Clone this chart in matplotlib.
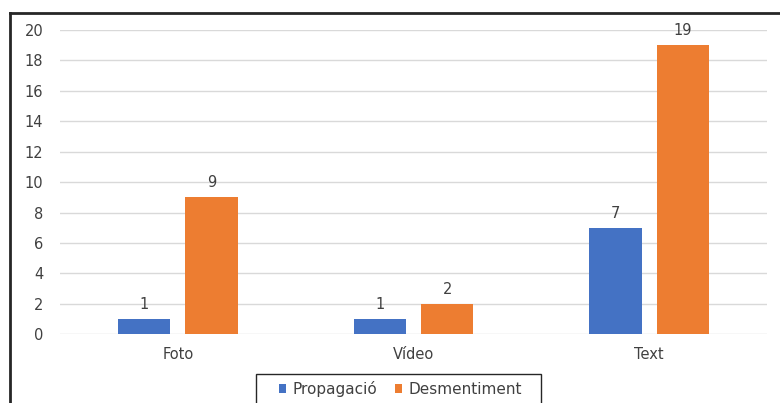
import numpy as np
import matplotlib
matplotlib.use("Agg")
import matplotlib.pyplot as plt
from matplotlib.lines import Line2D
from matplotlib.patches import Rectangle

categories = ["Foto", "Vídeo", "Text"]
propagacio = [1, 1, 7]
desmentiment = [9, 2, 19]
series_names = ["Propagació", "Desmentiment"]
yticks = [0, 2, 4, 6, 8, 10, 12, 14, 16, 18, 20]

blue = "#4472C4"
orange = "#ED7D31"
txt = "#404040"

plt.rcParams["font.family"] = "DejaVu Sans"

W, H = 780, 403
fig = plt.figure(figsize=(W / 100, H / 100), dpi=100)
ax = fig.add_axes([60 / W, (H - 334.3) / H, 707 / W, 304.3 / H])

x = np.arange(len(categories))
bw = 0.222
off = 0.143
b1 = ax.bar(x - off, propagacio, bw, color=blue, label=series_names[0], zorder=3)
b2 = ax.bar(x + off, desmentiment, bw, color=orange, label=series_names[1], zorder=3)

for bars, vals in ((b1, propagacio), (b2, desmentiment)):
    for r, v in zip(bars, vals):
        ax.annotate(str(v), (r.get_x() + r.get_width() / 2, v), xytext=(0, 5),
                    textcoords="offset points", ha="center", va="bottom",
                    fontsize=10.5, color=txt)

ax.set_xlim(-0.5, 2.5)
ax.set_ylim(0, 20)
ax.set_yticks(yticks)
ax.set_xticks(x)
ax.set_xticklabels(categories)
ax.tick_params(axis="both", length=0, labelsize=10.5, labelcolor=txt)
ax.tick_params(axis="y", pad=12)
ax.tick_params(axis="x", pad=9)
ax.grid(axis="y", color="#D9D9D9", lw=1, zorder=0)
for s in ax.spines.values():
    s.set_visible(False)

# outer frame (top and left edges)
fig.add_artist(Line2D([9.5 / W, 1], [1 - 13 / H, 1 - 13 / H], transform=fig.transFigure,
                      color="#262626", lw=2))
fig.add_artist(Line2D([9.5 / W, 9.5 / W], [0, 1 - 13 / H], transform=fig.transFigure,
                      color="#262626", lw=2))

# legend box, runs off the bottom edge
fig.add_artist(Rectangle((255.5 / W, -0.05), 285 / W, 0.05 + (H - 373.5) / H,
                         transform=fig.transFigure, fill=False, edgecolor="#262626", lw=1))
leg = fig.legend(loc="center left", bbox_to_anchor=(279 / W, 1 - 389 / H), ncol=2,
                 frameon=False, fontsize=11,
                 handlelength=0.46, handleheight=0.46, handletextpad=0.4,
                 columnspacing=1.2, borderpad=0, borderaxespad=0)
for t in leg.get_texts():
    t.set_color(txt)

fig.savefig("out.png", dpi=100)
